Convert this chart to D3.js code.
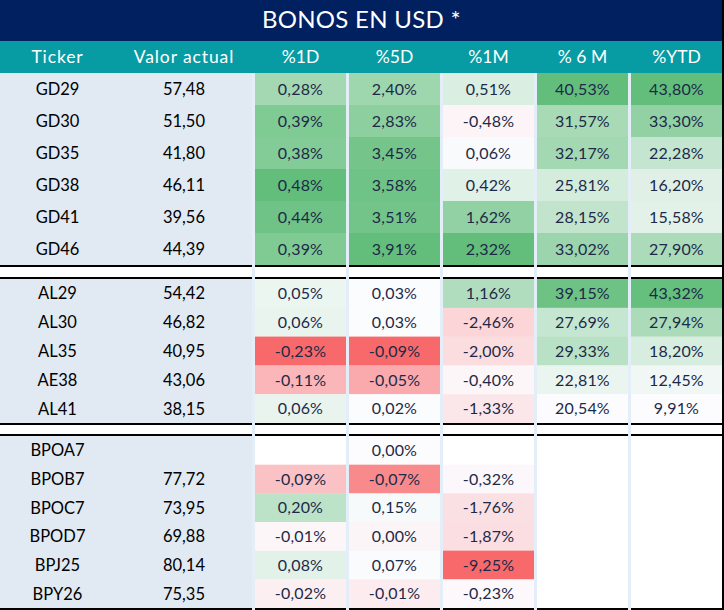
<!DOCTYPE html>
<html>
<head>
<meta charset="utf-8">
<script src="https://cdn.jsdelivr.net/npm/d3@7"></script>
<style>
  html, body { margin: 0; padding: 0; background: #ffffff; }
  svg { display: block; }
  text { font-family: Lato, "Open Sans", sans-serif; }
</style>
</head>
<body>
<svg id="chart" width="724" height="610"></svg>
<script>
// ---------------- DATA ----------------
const title = "BONOS EN USD *";
const headers = ["Ticker", "Valor actual", "%1D", "%5D", "%1M", "% 6 M", "%YTD"];
const tickers = ["GD29","GD30","GD35","GD38","GD41","GD46",
                 "AL29","AL30","AL35","AE38","AL41",
                 "BPOA7","BPOB7","BPOC7","BPOD7","BPJ25","BPY26"];
const groupOf = [0,0,0,0,0,0, 1,1,1,1,1, 2,2,2,2,2,2];
const valorActual = [57.48,51.50,41.80,46.11,39.56,44.39,
                     54.42,46.82,40.95,43.06,38.15,
                     null,77.72,73.95,69.88,80.14,75.35];
const pct1D  = [0.28,0.39,0.38,0.48,0.44,0.39,
                0.05,0.06,-0.23,-0.11,0.06,
                null,-0.09,0.20,-0.01,0.08,-0.02];
const pct5D  = [2.40,2.83,3.45,3.58,3.51,3.91,
                0.03,0.03,-0.09,-0.05,0.02,
                0.00,-0.07,0.15,-0.004,0.07,-0.01];
const pct1M  = [0.51,-0.48,0.06,0.42,1.62,2.32,
                1.16,-2.46,-2.00,-0.40,-1.33,
                null,-0.32,-1.76,-1.87,-9.25,-0.23];
const pct6M  = [40.53,31.57,32.17,25.81,28.15,33.02,
                39.15,27.69,29.33,22.81,20.54,
                null,null,null,null,null,null];
const pctYTD = [43.80,33.30,22.28,16.20,15.58,27.90,
                43.32,27.94,18.20,12.45,9.91,
                null,null,null,null,null,null];

const pctCols = [pct1D, pct5D, pct1M, pct6M, pctYTD];
const pctKeys = headers.slice(2);

// ---------------- LAYOUT ----------------
const W = 724, H = 610;
const RED = "#F8696B", MID = "#FCFCFF", GREEN = "#63BE7B";
const NAVY = "#00205F", TEAL = "#079BA4", LEFTBG = "#E1E9F3", STRIPE = "#E3EEF9";
const titleH = 41, headerBottom = 73;
const groupRanges = [[73, 265], [279, 423], [436, 608]];
const lineYs = [265, 277, 423, 434, 608];

const svg = d3.select("#chart");

const fmt = v => {
  if (v == null) return "";
  const a = Math.abs(v) < 0.005 ? 0 : v;
  return a.toFixed(2).replace(".", ",");
};

// column scales
const xData = d3.scaleBand().domain(pctKeys).range([253.5, 723.5])
  .paddingInner(3/94).paddingOuter(1.5/94);
const xLeft = d3.scaleBand().domain(headers.slice(0, 2)).range([0, 252]);
const colX = h => pctKeys.includes(h) ? xData(h) : xLeft(h);
const colW = h => pctKeys.includes(h) ? xData.bandwidth() : xLeft.bandwidth();
const colCx = h => colX(h) + colW(h) / 2;
const leftCx = { "Ticker": 57.5, "Valor actual": 184 };

// row scales per group
const yScales = groupRanges.map((r, g) =>
  d3.scaleBand().domain(tickers.filter((t, i) => groupOf[i] === g)).range(r));
const rowY = i => yScales[groupOf[i]](tickers[i]);
const rowH = i => yScales[groupOf[i]].bandwidth();

// color scales per column
const colorScales = pctCols.map(arr => {
  const vals = arr.filter(v => v != null);
  const mn = d3.min(vals), mx = d3.max(vals);
  if (mn < 0) {
    return d3.scaleLinear().domain([mn, 0, mx]).range([RED, MID, GREEN])
      .interpolate(d3.interpolateRgb).clamp(true);
  }
  return d3.scaleLinear().domain([mn, mx]).range([MID, GREEN])
    .interpolate(d3.interpolateRgb).clamp(true);
});

// ---------------- DRAW ----------------
svg.append("rect").attr("x", 252).attr("y", headerBottom)
  .attr("width", 722 - 252).attr("height", H - headerBottom).attr("fill", STRIPE);
svg.selectAll("rect.colbg").data(pctKeys).join("rect")
  .attr("x", d => xData(d)).attr("y", headerBottom)
  .attr("width", xData.bandwidth()).attr("height", H - headerBottom)
  .attr("fill", "#ffffff");

svg.selectAll("rect.leftbg").data(groupRanges).join("rect")
  .attr("x", 0).attr("y", d => d[0]).attr("width", 252).attr("height", d => d[1] - d[0])
  .attr("fill", LEFTBG);

pctKeys.forEach((k, ci) => {
  const arr = pctCols[ci];
  const cells = arr.map((v, i) => ({ v, i })).filter(d => d.v != null);
  svg.selectAll(null).data(cells).join("rect")
    .attr("x", xData(k)).attr("y", d => rowY(d.i))
    .attr("width", xData.bandwidth()).attr("height", d => rowH(d.i) + 0.3)
    .attr("fill", d => colorScales[ci](d.v));
  svg.selectAll(null).data(cells).join("text")
    .attr("x", xData(k) + xData.bandwidth() / 2)
    .attr("y", d => rowY(d.i) + rowH(d.i) / 2)
    .attr("dy", "0.36em").attr("text-anchor", "middle")
    .attr("font-size", 16).attr("letter-spacing", 0.2).attr("fill", "#1C2A48")
    .text(d => fmt(d.v) + "%");
});

svg.selectAll(null).data(tickers).join("text")
  .attr("x", leftCx["Ticker"]).attr("y", (d, i) => rowY(i) + rowH(i) / 2)
  .attr("dy", "0.36em").attr("text-anchor", "middle")
  .attr("font-size", 16.5).attr("fill", "#000").text(d => d);
svg.selectAll(null).data(valorActual.map((v, i) => ({ v, i })).filter(d => d.v != null)).join("text")
  .attr("x", leftCx["Valor actual"]).attr("y", d => rowY(d.i) + rowH(d.i) / 2)
  .attr("dy", "0.36em").attr("text-anchor", "middle")
  .attr("font-size", 16.5).attr("fill", "#000").text(d => fmt(d.v));

const segs = [[0, 252]].concat(pctKeys.map(k => [xData(k), xData(k) + xData.bandwidth()]));
lineYs.forEach(y => {
  svg.selectAll(null).data(segs).join("rect")
    .attr("x", d => d[0]).attr("y", y).attr("width", d => d[1] - d[0]).attr("height", 2)
    .attr("fill", "#000");
});

svg.append("rect").attr("x", 0).attr("y", 0).attr("width", 722).attr("height", titleH).attr("fill", NAVY);
svg.append("rect").attr("x", 0).attr("y", titleH).attr("width", 722).attr("height", headerBottom - titleH).attr("fill", TEAL);
svg.append("text").attr("x", 361.5).attr("y", titleH / 2 - 1).attr("dy", "0.36em")
  .attr("text-anchor", "middle").attr("font-size", 24).attr("letter-spacing", 0.3)
  .attr("fill", "#fff").text(title);
svg.selectAll(null).data(headers).join("text")
  .attr("x", d => pctKeys.includes(d) ? colCx(d) : leftCx[d])
  .attr("y", (titleH + headerBottom) / 2).attr("dy", "0.36em")
  .attr("text-anchor", "middle").attr("font-size", 17.5)
  .attr("letter-spacing", d => d === "Valor actual" || d === "Ticker" ? 0.9 : 0)
  .attr("fill", "#fff")
  .text(d => d);

svg.append("rect").attr("x", 722).attr("y", 0).attr("width", 2).attr("height", H).attr("fill", "#000");
</script>
</body>
</html>
